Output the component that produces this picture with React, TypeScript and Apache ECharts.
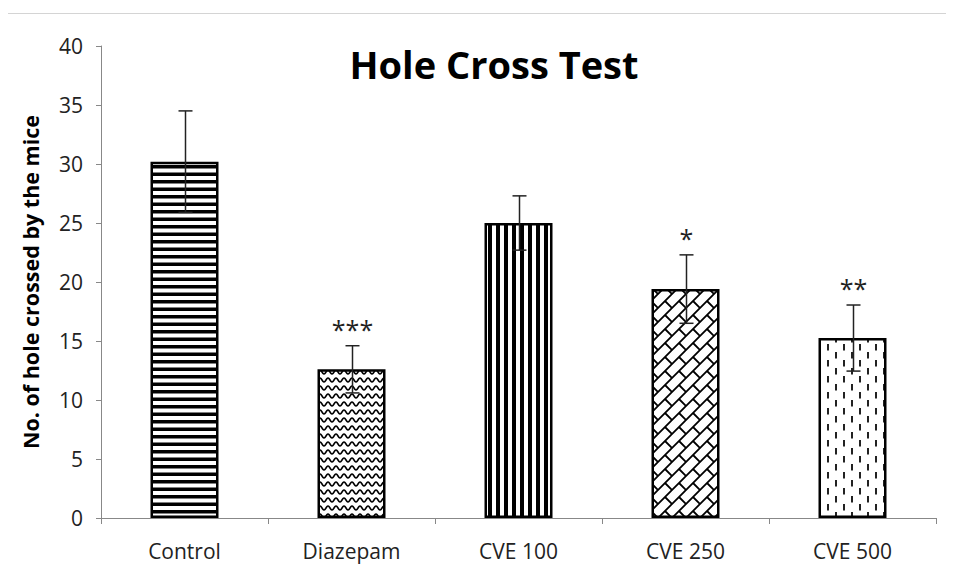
import React, { useEffect, useRef } from "react";
import * as echarts from "echarts";

const categories = ["Control", "Diazepam", "CVE 100", "CVE 250", "CVE 500"];
const means = [30.2, 12.6, 25.0, 19.4, 15.25];
const errors = [4.3, 2.0, 2.3, 2.9, 2.8];
const stars = ["", "***", "", "*", "**"];
const yTicks = { min: 0, max: 40, interval: 5 };

type Drawer = (ctx: CanvasRenderingContext2D, w: number, h: number) => void;

function makePattern(w: number, h: number, draw: Drawer) {
  const c = document.createElement("canvas");
  c.width = w;
  c.height = h;
  const ctx = c.getContext("2d")!;
  ctx.fillStyle = "#ffffff";
  ctx.fillRect(0, 0, w, h);
  ctx.fillStyle = "#000000";
  ctx.strokeStyle = "#000000";
  draw(ctx, w, h);
  return { image: c, repeat: "repeat", imageWidth: w, imageHeight: h } as any;
}

function buildPatterns() {
  const horiz = makePattern(8, 15, (ctx, w) => {
    ctx.fillRect(0, 0, w, 3.5);
    ctx.fillRect(0, 7.5, w, 3.5);
  });
  const wave = makePattern(8, 8, (ctx) => {
    ctx.lineWidth = 1.6;
    ctx.beginPath();
    for (let x = -1; x <= 9; x += 0.5) {
      const y = 4 - 2 * Math.cos((2 * Math.PI * x) / 8);
      if (x === -1) ctx.moveTo(x, y);
      else ctx.lineTo(x, y);
    }
    ctx.stroke();
  });
  const vert = makePattern(8, 8, (ctx, _w, h) => {
    ctx.fillRect(0, 0, 4, h);
  });
  const T = 14;
  const brick = makePattern(T, T, (ctx) => {
    ctx.lineWidth = 1.8;
    ctx.beginPath();
    for (const off of [-T, 0, T]) {
      ctx.moveTo(off - 2, T + 2);
      ctx.lineTo(off + T + 2, -2);
    }
    ctx.moveTo(T / 2, T / 2);
    ctx.lineTo(T + 1, T + 1);
    ctx.moveTo(-1, -1);
    ctx.lineTo(0.5, 0.5);
    ctx.stroke();
  });
  const dashes = makePattern(16, 16, (ctx) => {
    ctx.fillStyle = "#222";
    ctx.fillRect(3, 0, 2, 6.5);
    ctx.fillRect(11, 8, 2, 6.5);
  });
  return [horiz, wave, vert, brick, dashes];
}

export default function App() {
  const ref = useRef<HTMLDivElement>(null);

  useEffect(() => {
    if (!ref.current) return;
    const chart = echarts.init(ref.current, undefined, { renderer: "svg" });
    const patterns = buildPatterns();
    const font = "'Open Sans', Lato, sans-serif";

    chart.setOption({
      animation: false,
      backgroundColor: "#ffffff",
      title: {
        text: "Hole Cross Test",
        left: 489,
        top: 40,
        textAlign: "center",
        textStyle: { fontFamily: font, fontWeight: "bold", fontSize: 38, color: "#000" },
      },
      graphic: [
        {
          type: "rect",
          shape: { x: 5.5, y: 13.5, width: 1000, height: 700 },
          style: { fill: "none", stroke: "#d4d4d4", lineWidth: 1 },
          silent: true,
          z: -10,
        },
      ],
      grid: { left: 101, right: 18, top: 46, bottom: 62 },
      xAxis: {
        type: "category",
        data: categories,
        axisLine: { lineStyle: { color: "#888", width: 1 } },
        axisTick: { show: true, alignWithLabel: false, length: 6, lineStyle: { color: "#888" } },
        axisLabel: { fontFamily: font, fontSize: 21, color: "#222", margin: 22 },
      },
      yAxis: {
        type: "value",
        min: yTicks.min,
        max: yTicks.max,
        interval: yTicks.interval,
        name: "No. of hole crossed by the mice",
        nameLocation: "middle",
        nameGap: 60,
        nameTextStyle: { fontFamily: font, fontWeight: "bold", fontSize: 21.5, color: "#000" },
        splitLine: { show: false },
        axisLine: { show: true, lineStyle: { color: "#888", width: 1 } },
        axisTick: { show: true, length: 5, lineStyle: { color: "#888" } },
        axisLabel: { fontFamily: font, fontSize: 21, color: "#222", margin: 18 },
      },
      series: [
        {
          type: "bar",
          barWidth: 68,
          data: means.map((v, i) => ({
            value: v,
            itemStyle: {
              color: patterns[i],
              borderColor: "#000",
              borderWidth: 2.5,
            },
          })),
          z: 2,
        },
        {
          type: "custom",
          z: 5,
          data: means.map((v, i) => [i, v - errors[i], v + errors[i], i]),
          renderItem: (params: any, api: any) => {
            const idx = api.value(0);
            const lo = api.coord([idx, api.value(1)]);
            const hi = api.coord([idx, api.value(2)]);
            const x = Math.round(hi[0]) + 0.5;
            const cap = 7;
            const children: any[] = [
              { type: "line", shape: { x1: x, y1: lo[1], x2: x, y2: hi[1] }, style: { stroke: "#222", lineWidth: 1.5 } },
              { type: "line", shape: { x1: x - cap, y1: hi[1], x2: x + cap, y2: hi[1] }, style: { stroke: "#222", lineWidth: 1.5 } },
              { type: "line", shape: { x1: x - cap, y1: lo[1], x2: x + cap, y2: lo[1] }, style: { stroke: "#222", lineWidth: 1.5 } },
            ];
            const s = stars[api.value(3)];
            if (s) {
              children.push({
                type: "text",
                style: {
                  text: s,
                  x: x,
                  y: hi[1] - 17,
                  textAlign: "center",
                  textVerticalAlign: "middle",
                  fontFamily: font,
                  fontSize: 25,
                  fill: "#222",
                },
              });
            }
            return { type: "group", children };
          },
        },
      ],
    });

    return () => chart.dispose();
  }, []);

  return <div ref={ref} style={{ width: 954, height: 580, margin: -8 }} />;
}
